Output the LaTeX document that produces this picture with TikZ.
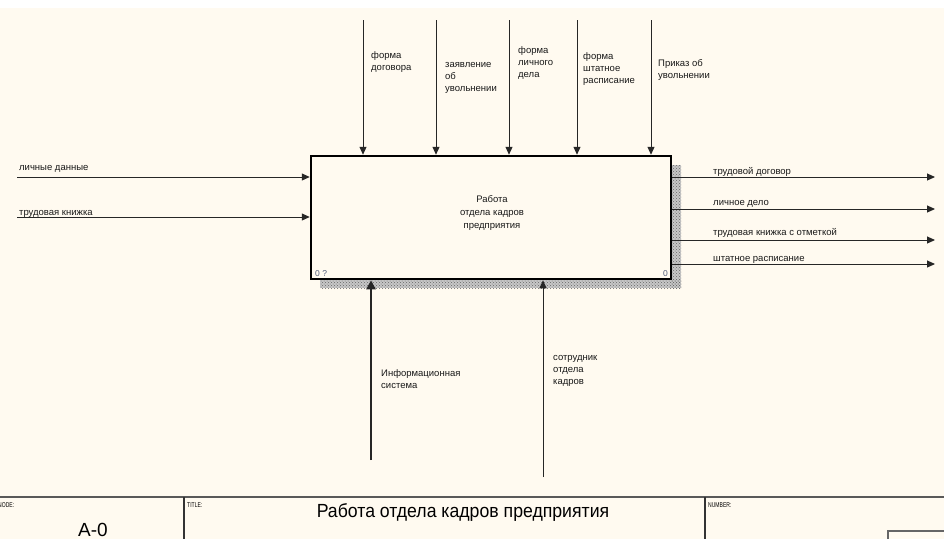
\documentclass[tikz,border=0pt]{standalone}
\usepackage{fontspec}
\setmainfont{Liberation Sans}
\newfontfamily\narrowfont[FakeStretch=0.72]{Liberation Sans}
\newfontfamily\titlefont[FakeStretch=0.93]{Liberation Sans}
\usetikzlibrary{arrows.meta, patterns}
\definecolor{paper}{RGB}{255,250,240}
\definecolor{numgray}{RGB}{80,92,120}
\tikzset{
    flow/.style={-{Triangle[length=8pt,width=7pt]}, line width=1pt, black!85},
    lbl/.style={font=\fontsize{9.5}{12}\selectfont, inner sep=0pt, align=left, anchor=base west, black!90},
    funcbox/.style={draw, line width=2.5pt, minimum width=360pt, minimum height=123pt, fill=paper},
    tiny/.style={font=\narrowfont\fontsize{7}{8}\selectfont, inner sep=0pt, anchor=base west}
}
\begin{document}
\begin{tikzpicture}[x=1pt, y=-1pt]
    \fill[paper] (0,0) rectangle (944,539);
    \fill[white] (0,0) rectangle (944,8);
    \useasboundingbox (0,0) rectangle (944,539);

    % Shadow of the function box
    \fill[black!22] (671,165) rectangle (681,288);
    \fill[black!22] (320,279) rectangle (681,288);
    \fill[pattern=crosshatch dots, pattern color=black!60] (671,165) rectangle (681,288);
    \fill[pattern=crosshatch dots, pattern color=black!60] (320,279) rectangle (681,288);

    % Function box
    \node[funcbox] (func) at (491,217.5) {};
    \node[font=\fontsize{9.5}{13}\selectfont, align=center, inner sep=0pt, black!90]
        (functxt) at (492,213) {Работа\\отдела кадров\\предприятия};
    \node[font=\fontsize{8.5}{9}\selectfont, inner sep=0pt, anchor=base west, numgray]
        (numl) at (315,276) {0 ?};
    \node[font=\fontsize{8.5}{9}\selectfont, inner sep=0pt, anchor=base east, numgray]
        (numr) at (668,276) {0};

    % Controls (top)
    \foreach \x/\n in {363/c1, 436/c2, 509/c3, 577/c4, 651/c5} {
        \coordinate (\n) at (\x,20);
        \draw[flow] (\n) -- (\n |- func.north);
    }
    \node[lbl] (c1lbl) at (371,70) {форма\\договора};
    \node[lbl] (c2lbl) at (445,91) {заявление\\об\\увольнении};
    \node[lbl] (c3lbl) at (518,77) {форма\\личного\\дела};
    \node[lbl] (c4lbl) at (583,83) {форма\\штатное\\расписание};
    \node[lbl] (c5lbl) at (658,78) {Приказ об\\увольнении};

    % Inputs (left)
    \foreach \y/\n in {177/i1, 217/i2} {
        \coordinate (\n) at (17,\y);
        \draw[flow] (\n) -- (\n -| func.west);
    }
    \node[lbl] (i1lbl) at (19,170) {личные данные};
    \node[lbl] (i2lbl) at (19,215) {трудовая книжка};

    % Outputs (right)
    \foreach \y/\n in {177/o1, 209/o2, 240/o3, 264/o4} {
        \coordinate (\n) at (935,\y);
        \draw[flow] (\n -| func.east) -- (\n);
    }
    \node[lbl] (o1lbl) at (713,174) {трудовой договор};
    \node[lbl] (o2lbl) at (713,205) {личное дело};
    \node[lbl] (o3lbl) at (713,235) {трудовая книжка с отметкой};
    \node[lbl] (o4lbl) at (713,261) {штатное расписание};

    % Mechanisms (bottom)
    \coordinate (m1) at (371,460);
    \coordinate (m2) at (543,477);
    \draw[flow, line width=2.5pt, -{Triangle[length=9pt,width=9pt]}] (m1) -- (m1 |- func.south);
    \draw[flow] (m2) -- (m2 |- func.south);
    \node[lbl] (m1lbl) at (381,388) {Информационная\\система};
    \node[lbl] (m2lbl) at (553,384) {сотрудник\\отдела\\кадров};

    % Title bar
    \draw[line width=1.5pt, black!65] (0,497) -- (944,497);
    \draw[line width=1.2pt, black!80] (184,497) -- (184,539);
    \draw[line width=1.2pt, black!80] (705,497) -- (705,539);
    \draw[line width=1.2pt, black!60] (888,539) -- (888,531) -- (944,531);
    \node[tiny] (nodelbl) at (-2,507) {NODE:};
    \node[tiny] (titlelbl) at (187,507) {TITLE:};
    \node[tiny] (numberlbl) at (708,507) {NUMBER:};
    \node[font=\fontsize{19}{20}\selectfont, inner sep=0pt, anchor=base] (nodeno) at (93,536) {A-0};
    \node[font=\titlefont\fontsize{19}{20}\selectfont, inner sep=0pt, anchor=base] (title) at (463,517)
        {Работа отдела кадров предприятия};
\end{tikzpicture}
\end{document}
